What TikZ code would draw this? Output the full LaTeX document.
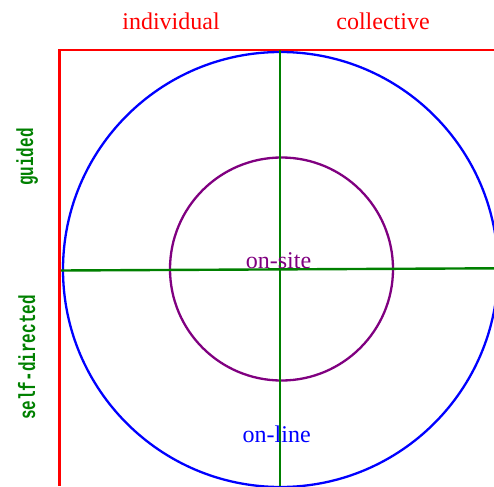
\documentclass[tikz,border=0pt]{standalone}
\usepackage{fontspec}
\setmainfont{Liberation Serif}
\newfontfamily\monofont{Liberation Mono}
\definecolor{svgred}{RGB}{255,0,0}
\definecolor{svgblue}{RGB}{0,0,255}
\definecolor{svggreen}{RGB}{0,128,0}
\definecolor{svgpurple}{RGB}{128,0,128}
\newcommand{\tallmono}[1]{\scalebox{1}[1.45]{#1}}
\begin{document}
\begin{tikzpicture}[x=1pt,y=-1pt,
  serif/.style={font=\fontsize{24}{24}\selectfont, inner sep=0pt, anchor=base},
  mono/.style={font=\monofont\bfseries\fontsize{16}{16}\selectfont, text=svggreen, inner sep=0pt, anchor=base, rotate=90}]
\useasboundingbox (0,0) rectangle (494,486);
% frame
\draw[svgred, line width=2.6pt] (59.5,486) -- (59.5,50) -- (494,50);
% circles
\draw[svgblue, line width=2.3pt] (280.5,269.5) circle[radius=217.5];
\draw[svgpurple, line width=2.3pt] (281.5,269) circle[radius=111.5];
% axes
\draw[svggreen, line width=2.4pt] (61,270.5) -- (494,268.3);
\draw[svggreen, line width=2.4pt] (280,50) -- (280,486);
% labels
\node[serif, text=svgred] (ind) at (171,30) {individual};
\node[serif, text=svgred] (col) at (383,30) {collective};
\node[serif, text=svgpurple] (site) at (278.5,268.3) {on-site};
\node[serif, text=svgblue] (line) at (276.7,442.7) {on-line};
\node[mono] (gui) at (33,157) {\tallmono{guided}};
\node[mono] (self) at (35,357.5) {\tallmono{self-directed}};
\end{tikzpicture}
\end{document}
